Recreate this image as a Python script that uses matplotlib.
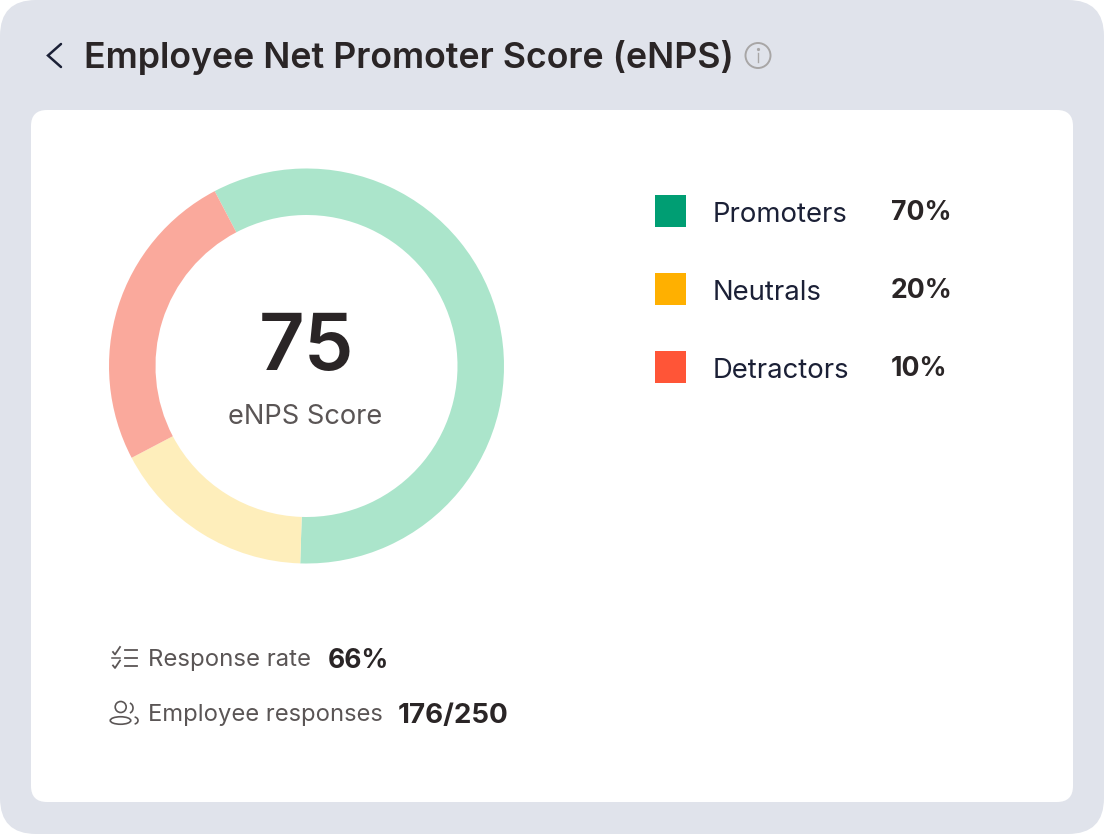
import matplotlib
matplotlib.use("Agg")
import matplotlib.pyplot as plt
from matplotlib.patches import FancyBboxPatch, Rectangle, Circle, Ellipse, Arc

plt.rcParams['font.family'] = ['Inter', 'DejaVu Sans']

# --- Data ---
donut_values = [58.2, 16.8, 25]
donut_colors = ['#ABE5CB', '#FEEEBB', '#FAA99C']
legend_labels = ['Promoters', 'Neutrals', 'Detractors']
legend_values = ['70%', '20%', '10%']
legend_colors = ['#009E73', '#FFB000', '#FF5537']
score = '75'
response_rate = '66%'
employee_responses = '176/250'

W, H = 1104, 834
DARK = '#2A2526'
GREY = '#5A5555'
NAVY = '#1B2036'

fig = plt.figure(figsize=(W / 100, H / 100), dpi=100, facecolor='white')

# full-figure axes in pixel coordinates
bg = fig.add_axes([0, 0, 1, 1])
bg.set_xlim(0, W)
bg.set_ylim(H, 0)
bg.axis('off')


def round_box(x0, y0, x1, y1, r, color):
    bg.add_patch(FancyBboxPatch((x0 + r, y0 + r), x1 - x0 - 2 * r, y1 - y0 - 2 * r,
                                boxstyle=f"round,pad={r},rounding_size={r}",
                                fc=color, ec='none'))


round_box(0, 0, W, H, 36, '#E0E3EB')
round_box(31, 110, 1073, 802, 16, 'white')

# --- Header ---
bg.plot([61, 48, 61], [44, 55.5, 67], color=NAVY, lw=1.8, solid_capstyle='round', solid_joinstyle='miter')
bg.text(83.5, 54, 'Employee Net Promoter Score (eNPS)', fontsize=25.75, fontweight='semibold',
        color=DARK, va='center_baseline', ha='left')
bg.add_patch(Circle((758, 55.5), 12.5, fc='none', ec='#A8A6A6', lw=1.4))
bg.plot([758, 758], [53, 62], color='#A8A6A6', lw=1.0)
bg.plot([758], [48.5], marker='o', ms=1.3, color='#A8A6A6')

# --- Donut ---
ax = fig.add_axes([(306.5 - 197.5) / W, 1 - (366 + 197.5) / H, 395 / W, 395 / H])
ax.pie(donut_values, colors=donut_colors, startangle=117.7, counterclock=False,
       radius=1, wedgeprops={'width': 46.5 / 197.5, 'linewidth': 0})
ax.set_xlim(-1, 1)
ax.set_ylim(-1, 1)
ax.patch.set_alpha(0)

bg2 = fig.add_axes([0, 0, 1, 1])
bg2.set_xlim(0, W)
bg2.set_ylim(H, 0)
bg2.axis('off')
bg2.text(306, 341, score, fontsize=57, fontweight='semibold', color=DARK, ha='center', va='center_baseline')
bg2.text(305.5, 414, 'eNPS Score', fontsize=19.6, color=GREY, ha='center', va='center_baseline')

# --- Legend ---
row_y = [211, 289, 367]
for y, label, value, color in zip(row_y, legend_labels, legend_values, legend_colors):
    bg2.add_patch(Rectangle((654.5, y - 16), 31.5, 32, fc=color, ec='none'))
    bg2.text(713, y + 1, label, fontsize=19.8, color=NAVY, va='center_baseline')
    bg2.text(891, y - 1, value, fontsize=19.2, fontweight='bold', color=DARK, va='center_baseline')

# --- Footer ---
bg2.text(148, 657.5, 'Response rate', fontsize=17.25, color=GREY, va='center_baseline')
bg2.text(328, 658, response_rate, fontsize=19, fontweight='bold', color=DARK, va='center_baseline')
bg2.text(148, 712.5, 'Employee responses', fontsize=17.1, color=GREY, va='center_baseline')
bg2.text(398, 713, employee_responses, fontsize=20, fontweight='bold', color=DARK, va='center_baseline')

# checklist icon
for y in [650, 658, 666]:
    bg2.plot([125, 137], [y, y], color=GREY, lw=1.3)
for y in [654.5, 668]:
    bg2.plot([113, 115, 120], [y - 2.5, y, y - 7.5], color=GREY, lw=1.3)
bg2.plot([112, 120], [658, 658], color=GREY, lw=1.1)

# people icon
bg2.add_patch(Circle((120.7, 707), 5.5, fc='none', ec=GREY, lw=1.2))
bg2.add_patch(Ellipse((120.5, 720.5), 20.5, 7.5, fc='none', ec=GREY, lw=1.2))
bg2.add_patch(Arc((129, 708), 8, 10, theta1=-80, theta2=80, ec=GREY, lw=1.2))
bg2.add_patch(Arc((134, 720.5), 8, 7, theta1=-80, theta2=80, ec=GREY, lw=1.2))

fig.savefig('out.png', dpi=100, facecolor='white')
